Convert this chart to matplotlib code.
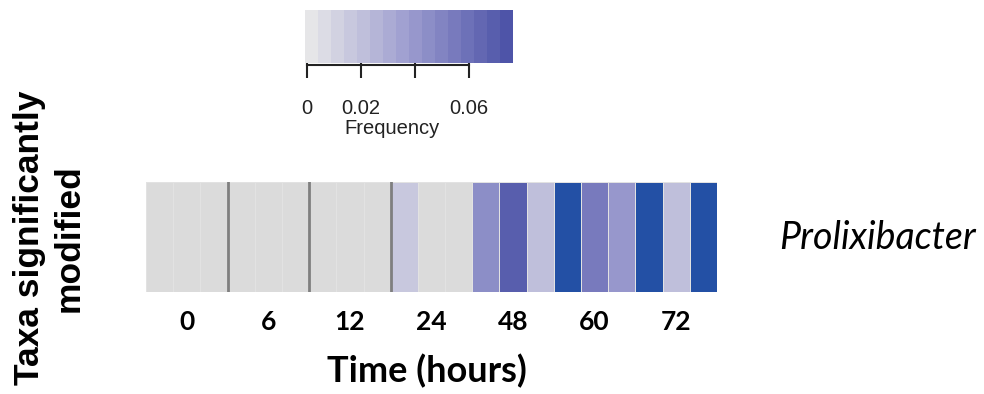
import numpy as np
import matplotlib
matplotlib.use('Agg')
import matplotlib.pyplot as plt
from matplotlib import font_manager
from matplotlib.colors import LinearSegmentedColormap, Normalize
from matplotlib.cm import ScalarMappable

# dados
times = [0, 6, 12, 24, 48, 60, 72]
reps = 3
frequency = [0, 0, 0,
             0, 0, 0,
             0, 0, 0,
             0.016, 0, 0,
             0.045, 0.069, 0.021,
             0.09, 0.055, 0.038,
             0.09, 0.021, 0.09]
taxon = 'Prolixibacter'
dark_borders = [3, 6, 9]
cbar_ticks = [0, 0.02, 0.04, 0.06]
cbar_labels = ['0', '0.02', '', '0.06']


def arial(weight='normal'):
    # Liberation Sans sem a versão Narrow
    for f in font_manager.fontManager.ttflist:
        if f.name == 'Liberation Sans' and 'Narrow' not in f.fname and f.weight == (700 if weight == 'bold' else 400) and f.style == 'normal':
            return font_manager.FontProperties(fname=f.fname)
    return font_manager.FontProperties(family='DejaVu Sans', weight=weight)


cmap = LinearSegmentedColormap.from_list('freq', ['#e6e6e8', '#9c9ccf', '#4e54a8']).resampled(16)
cmap = cmap.with_extremes(over='#2350a5')
norm = Normalize(vmin=-0.00074, vmax=0.0763)

fig = plt.figure(figsize=(9.84, 3.94), dpi=100)

# heatmap
ax = fig.add_axes([146/984, 1 - 292/394, 571/984, 110/394])
ax.set_facecolor('#dbdbdb')
vals = np.ma.masked_equal(np.array(frequency).reshape(1, -1), 0)
ax.pcolormesh(np.arange(len(frequency) + 1), [0, 1], vals, cmap=cmap, norm=norm,
              edgecolors='#e2e2e2', linewidth=0.6)
for b in dark_borders:
    ax.axvline(b, color='#7f7f7f', lw=2)
ax.set_xlim(0, len(frequency))
ax.set_ylim(0, 1)
centers = [i * reps + reps / 2 for i in range(len(times))]
ax.set_xticks(centers)
ax.set_xticklabels([str(t) for t in times], fontfamily='Lato', fontweight='bold', fontsize=19)
ax.tick_params(axis='x', length=0, pad=13)
ax.set_yticks([])
for s in ax.spines.values():
    s.set_visible(False)

# colorbar
cax = fig.add_axes([305/984, 1 - 63/394, 208/984, 53/394])
cb = fig.colorbar(ScalarMappable(norm=norm, cmap=cmap), cax=cax, orientation='horizontal')
cb.outline.set_visible(False)
cb.set_ticks(cbar_ticks)
cb.set_ticklabels(cbar_labels)
fp = arial()
fp.set_size(14.5)
cax.tick_params(axis='x', length=11, width=1.5, direction='out', pad=15, colors='#222222')
for lab in cax.get_xticklabels():
    lab.set_fontproperties(fp)
cax.plot([cbar_ticks[0], cbar_ticks[-1]], [-0.03, -0.03], color='#222222', lw=1.5,
         clip_on=False, transform=cax.get_xaxis_transform())
fig.text(392/984, 1 - 129/394, 'Frequency', ha='center', va='center', fontproperties=fp,
         color='#222222')

# textos
fpb = arial('bold')
fpb.set_size(25.5)
fig.text(49/984, 1 - 238/394, 'Taxa significantly\nmodified', rotation=90, ha='center',
         va='center', fontproperties=fpb, linespacing=1.25, multialignment='center')
fig.text(427/984, 1 - 371/394, 'Time (hours)', ha='center', va='center', fontsize=26,
         fontweight='bold', fontfamily='Lato')
fig.text(779/984, 1 - 238/394, taxon, ha='left', va='center', fontsize=27,
         style='italic', fontfamily='Lato')

fig.savefig('out.png', dpi=100)
